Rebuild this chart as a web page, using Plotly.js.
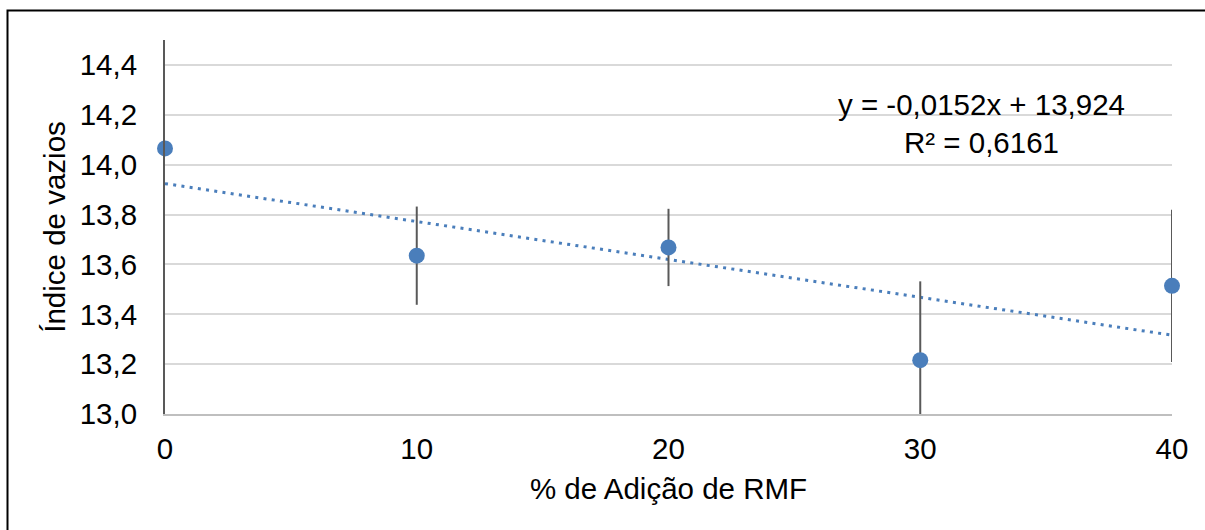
<!DOCTYPE html>
<html>
<head>
<meta charset="utf-8">
<script src="https://cdn.plot.ly/plotly-3.0.1.min.js"></script>
<style>
html,body{margin:0;padding:0;background:#fff;}
#chart{width:1205px;height:530px;}
</style>
</head>
<body>
<div id="chart"></div>
<script>
// Data
var adicao = [0, 10, 20, 30, 40];
var indiceVazios = [14.065, 13.635, 13.668, 13.216, 13.514];
var erro = [0, 0.197, 0.155, 0.316, 0.305];
var trendSlope = -0.0152;
var trendIntercept = 13.924;
var trendX = [0, 40];
var equationText = "y = -0,0152x + 13,924<br>R² = 0,6161";
var xTicks = [0, 10, 20, 30, 40];
var yTicks = [13.0, 13.2, 13.4, 13.6, 13.8, 14.0, 14.2, 14.4];
var yTickLabels = ["13,0", "13,2", "13,4", "13,6", "13,8", "14,0", "14,2", "14,4"];

var font = "Liberation Sans, Arial, sans-serif";
var FS = 29.5;
var W = 1205, H = 530;
var m = {l: 165, r: 33, t: 40, b: 116};
var pw = W - m.l - m.r, ph = H - m.t - m.b;

var trendY = trendX.map(function (x) { return trendSlope * x + trendIntercept; });

var traces = [
  {
    x: trendX, y: trendY, type: "scatter", mode: "lines",
    line: {color: "#4a7ebb", width: 3, dash: "3px,5.3px"},
    hoverinfo: "skip", showlegend: false
  },
  {
    x: adicao, y: indiceVazios, type: "scatter", mode: "markers",
    cliponaxis: false,
    marker: {color: "#4a7ebb", size: 16},
    error_y: {type: "data", array: erro, visible: true, color: "#595959", thickness: 2, width: 0},
    showlegend: false
  }
];

var layout = {
  width: W, height: H,
  margin: m,
  paper_bgcolor: "#fff", plot_bgcolor: "#fff",
  font: {family: font, color: "#000", size: FS},
  xaxis: {
    range: [0, 40], tickvals: xTicks, ticktext: xTicks.map(String),
    showgrid: false, zeroline: false,
    showline: true, linecolor: "#bfbfbf", linewidth: 2,
    ticks: "", ticklen: 0, ticklabelstandoff: 8,
    tickfont: {family: font, size: FS, color: "#000"},
    title: {text: "% de Adição de RMF", font: {family: font, size: FS, color: "#000"}, standoff: 14}
  },
  yaxis: {
    range: [13.0, 14.5], tickvals: yTicks, ticktext: yTickLabels,
    showgrid: true, gridcolor: "#d9d9d9", gridwidth: 2,
    zeroline: false,
    showline: true, linecolor: "#595959", linewidth: 2,
    ticks: "", ticklen: 0, ticklabelstandoff: 20,
    tickfont: {family: font, size: FS, color: "#000"},
    title: {text: "Índice de vazios", font: {family: font, size: FS, color: "#000"}, standoff: 5}
  },
  annotations: [
    {
      xref: "paper", yref: "paper",
      x: (981 - m.l) / pw, y: (414 - 123) / ph,
      xanchor: "center", yanchor: "middle",
      text: equationText, showarrow: false, align: "center",
      font: {family: font, size: FS, color: "#000"}
    }
  ],
  shapes: [
    {
      type: "rect", xref: "paper", yref: "paper",
      x0: (7.5 - m.l) / pw, x1: (1215 - m.l) / pw,
      y0: (414 - 540) / ph, y1: (414 - 10.5) / ph,
      line: {color: "#000", width: 2}, fillcolor: "rgba(0,0,0,0)", layer: "above"
    }
  ]
};

Plotly.newPlot("chart", traces, layout, {displayModeBar: false, staticPlot: true});
</script>
</body>
</html>
